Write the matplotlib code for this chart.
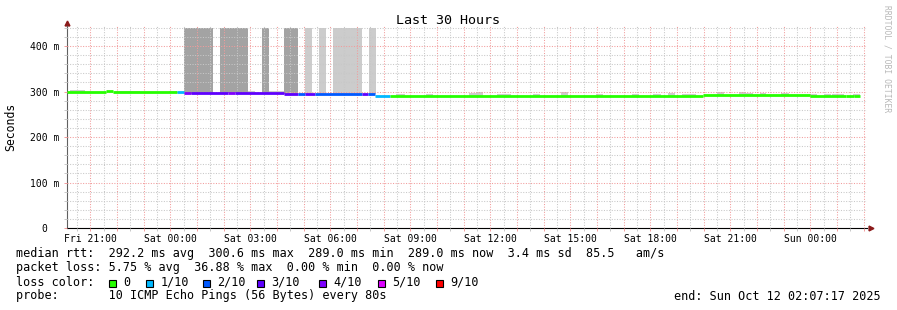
import matplotlib
matplotlib.use("Agg")
import matplotlib.pyplot as plt
import matplotlib.dates as mdates
from matplotlib.patches import Rectangle
from matplotlib.ticker import MultipleLocator, FuncFormatter
import numpy as np
import pandas as pd

plt.rcParams['font.family'] = ['DejaVu Sans Mono']

# ---------------- data ----------------
start_time = "2025-10-10 20:07:17"
end_time = "2025-10-12 02:07:17"

# median rtt as steps: edges (n+1), values in ms (n), lost pings out of 10 (n)
med_edges = ["2025-10-10 20:07:17", "2025-10-10 21:35", "2025-10-10 21:50",
             "2025-10-11 00:15", "2025-10-11 00:30", "2025-10-11 00:46",
             "2025-10-11 02:09", "2025-10-11 02:25", "2025-10-11 04:15",
             "2025-10-11 04:47", "2025-10-11 05:03", "2025-10-11 05:25",
             "2025-10-11 07:11", "2025-10-11 07:24", "2025-10-11 07:40",
             "2025-10-11 08:14", "2025-10-11 19:58", "2025-10-11 23:58",
             "2025-10-12 01:19", "2025-10-12 01:37", "2025-10-12 01:51"]
med_ms = [299.0, 300.6, 299.0, 299.0, 297.0, 296.0, 297.0, 296.0, 295.0, 295.0,
          295.0, 295.0, 295.0, 295.0, 289.5, 289.4, 293.4, 289.4, 291.0, 289.4]
med_loss = [0, 0, 0, 1, 4, 3, 4, 3, 3, 2, 3, 2, 3, 2, 1, 0, 0, 0, 0, 0]

# smoke (ping spread above the median)
smoke_start = ["2025-10-11 00:30", "2025-10-11 01:51", "2025-10-11 03:26", "2025-10-11 04:15",
               "2025-10-11 05:03", "2025-10-11 05:34", "2025-10-11 06:06", "2025-10-11 07:26",
               "2025-10-10 20:14", "2025-10-10 21:55", "2025-10-10 23:57", "2025-10-11 02:54",
               "2025-10-11 03:42", "2025-10-11 08:27", "2025-10-11 09:35", "2025-10-11 11:12",
               "2025-10-11 11:27", "2025-10-11 12:15", "2025-10-11 13:36", "2025-10-11 14:39",
               "2025-10-11 15:57", "2025-10-11 17:18", "2025-10-11 18:06", "2025-10-11 18:39",
               "2025-10-11 19:11", "2025-10-11 20:30", "2025-10-11 21:19", "2025-10-11 21:35",
               "2025-10-11 22:06", "2025-10-11 22:54", "2025-10-11 23:59", "2025-10-12 00:30",
               "2025-10-12 00:48", "2025-10-12 01:36"]
smoke_end = ["2025-10-11 01:36", "2025-10-11 02:54", "2025-10-11 03:42", "2025-10-11 04:47",
             "2025-10-11 05:18", "2025-10-11 05:50", "2025-10-11 07:11", "2025-10-11 07:42",
             "2025-10-10 20:48", "2025-10-10 22:51", "2025-10-11 00:15", "2025-10-11 03:10",
             "2025-10-11 04:15", "2025-10-11 08:48", "2025-10-11 09:51", "2025-10-11 11:27",
             "2025-10-11 11:43", "2025-10-11 12:46", "2025-10-11 13:51", "2025-10-11 14:54",
             "2025-10-11 16:13", "2025-10-11 17:34", "2025-10-11 18:24", "2025-10-11 18:55",
             "2025-10-11 19:42", "2025-10-11 20:45", "2025-10-11 21:35", "2025-10-11 21:51",
             "2025-10-11 22:20", "2025-10-11 23:12", "2025-10-12 00:15", "2025-10-12 00:46",
             "2025-10-12 01:15", "2025-10-12 01:51"]
smoke_top_ms = [440, 440, 440, 440, 440, 440, 440, 440,
                302.5, 301.0, 301.0, 300.5, 302.0, 295.0, 294.5, 296.5, 298.0, 295.0,
                295.0, 300.0, 295.0, 295.0, 294.5, 297.0, 294.5, 299.0, 299.0, 297.0,
                297.0, 297.0, 294.5, 295.0, 294.0, 295.0]
smoke_shade = [1, 1, 1, 1, 0, 0, 0, 0,
               0, 0, 0, 0, 0, 0, 0, 0, 0, 0, 0, 0, 0, 0, 0, 0, 0, 0, 0, 0, 0, 0, 0, 0, 0, 0]

loss_labels = ["0", "1/10", "2/10", "3/10", "4/10", "5/10", "9/10"]
loss_levels = [0, 1, 2, 3, 4, 5, 9]
loss_colors = ["#26ff00", "#00b8ff", "#0059ff", "#5e00ff", "#7e00ff", "#dd00ff", "#ff0000"]

stats_lines = [
    "median rtt:  292.2 ms avg  300.6 ms max  289.0 ms min  289.0 ms now  3.4 ms sd  85.5   am/s",
    "packet loss: 5.75 % avg  36.88 % max  0.00 % min  0.00 % now",
]
probe_line = "probe:       10 ICMP Echo Pings (56 Bytes) every 80s"
end_line = "end: Sun Oct 12 02:07:17 2025"
title = "Last 30 Hours"

# ---------------- figure ----------------
W, H = 897, 310
fig = plt.figure(figsize=(W / 100, H / 100), dpi=100, facecolor="white")
ax = fig.add_axes([67 / W, 1 - 228 / H, 800 / W, 202 / H])
ax.set_facecolor("white")

def px(x, y):
    return x / W, 1 - y / H

to_num = lambda s: mdates.date2num(pd.Timestamp(s).to_pydatetime())
edges = np.array([to_num(s) for s in med_edges])
color_of = dict(zip(loss_levels, loss_colors))

def median_at(t):
    i = np.searchsorted(edges, t, side="right") - 1
    i = np.clip(i, 0, len(med_ms) - 1)
    return med_ms[i]

# smoke
for s0, s1, top, shade in zip(smoke_start, smoke_end, smoke_top_ms, smoke_shade):
    t0, t1 = to_num(s0), to_num(s1)
    lo = median_at((t0 + t1) / 2) - 1.0
    ax.fill_between([t0, t1], [lo, lo], [top, top],
                    color="#a3a3a3" if shade else "#cccccc", lw=0, zorder=1)

# median line colored by loss
for i in range(len(med_ms)):
    ax.hlines(med_ms[i], edges[i], edges[i + 1], color=color_of[med_loss[i]],
              lw=2.0, zorder=3, capstyle="butt")

ax.set_xlim(to_num(start_time), to_num(end_time))
ax.set_ylim(0, 444)

ax.xaxis.set_major_locator(mdates.HourLocator(interval=1))
ax.xaxis.set_minor_locator(mdates.MinuteLocator(byminute=[30]))

def xfmt(v, pos):
    d = mdates.num2date(v)
    return d.strftime("%a %H:%M") if d.hour % 3 == 0 else ""

ax.xaxis.set_major_formatter(FuncFormatter(xfmt))
ax.yaxis.set_major_locator(MultipleLocator(100))
ax.yaxis.set_minor_locator(MultipleLocator(20))
ax.yaxis.set_major_formatter(FuncFormatter(lambda v, p: "0  " if v == 0 else f"{v:.0f} m"))

ax.set_axisbelow(False)
ax.grid(which="major", color="#f29c9c", linestyle=(0, (1, 1.5)), lw=0.75)
ax.grid(which="minor", color="#c8c8c8", linestyle=(0, (1, 1.5)), lw=0.75)

ax.tick_params(axis="both", which="major", labelsize=7, length=2, width=0.7,
               color="#f29c9c", pad=2)
ax.tick_params(axis="both", which="minor", length=2, width=0.7, color="#c8c8c8")
ax.tick_params(axis="y", which="major", pad=3.5)

for s in ["top", "right"]:
    ax.spines[s].set_visible(False)
ax.spines["left"].set_color("#606060")
ax.spines["left"].set_linewidth(0.8)
ax.spines["bottom"].set_color("#000000")
ax.spines["bottom"].set_linewidth(0.8)

# axis arrows
ax.plot([0], [1.015], marker="^", ms=3.5, color="#8b1a1a", mec="#8b1a1a",
        transform=ax.transAxes, clip_on=False)
ax.plot([1.005], [0], marker=">", ms=3.5, color="#8b1a1a", mec="#8b1a1a",
        transform=ax.transAxes, clip_on=False)

# texts
fig.text(*px(448, 20), title, ha="center", va="center", fontsize=9.6)
fig.text(*px(11, 127), "Seconds", ha="center", va="center", rotation=90, fontsize=8.3)
fig.text(*px(887, 59), "RRDTOOL / TOBI OETIKER", ha="center", va="center",
         rotation=270, fontsize=5.8, color="#b8b8b8")

fig.text(*px(16, 254), stats_lines[0], ha="left", va="center", fontsize=8.5)
fig.text(*px(16, 268), stats_lines[1], ha="left", va="center", fontsize=8.5)
fig.text(*px(16, 282), "loss color:", ha="left", va="center", fontsize=8.5)
box_x = [109, 146, 203, 257, 319, 378, 436]
for bx, lab, col in zip(box_x, loss_labels, loss_colors):
    fig.add_artist(Rectangle(px(bx, 287.3), 7.3 / W, 7.3 / H, transform=fig.transFigure,
                             facecolor=col, edgecolor="black", lw=0.8))
    fig.text(*px(bx + 14.3, 282), lab, ha="left", va="center", fontsize=8.5)
fig.text(*px(16, 296), probe_line, ha="left", va="center", fontsize=8.5)
fig.text(*px(881, 296), end_line, ha="right", va="center", fontsize=8.5)

fig.savefig("out.png", dpi=100, facecolor="white")
